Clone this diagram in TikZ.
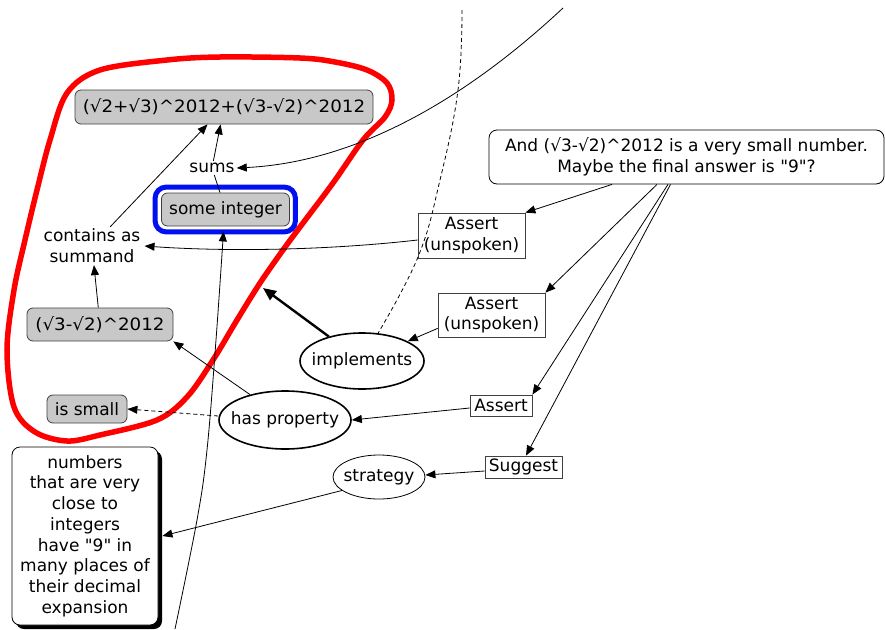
\documentclass[tikz,border=0pt]{standalone}
\usepackage{fontspec}
\usepackage{graphicx}
\setmainfont{DejaVu Sans}
\usetikzlibrary{arrows.meta,shapes.geometric,shadows}
\definecolor{boxgray}{HTML}{C8C8C8}
\definecolor{edgegray}{HTML}{404040}
\definecolor{loopred}{HTML}{FF0000}
\definecolor{loopblue}{HTML}{0010F0}
\begin{document}
\begin{tikzpicture}[x=1pt,y=-1pt,
  every node/.style={font=\fontsize{17}{20.7}\selectfont, inner sep=0pt},
  graybox/.style={draw=edgegray, fill=boxgray, rounded corners=6pt, line width=0.8pt},
  whitebox/.style={draw=black, fill=white, rounded corners=8pt, line width=0.8pt},
  rectbox/.style={draw=edgegray, fill=white, line width=0.8pt},
  ell/.style={draw, ellipse, line width=1.6pt},
  conn/.style={line width=0.8pt, -{Triangle[length=10pt,width=8pt]}},
  bigconn/.style={line width=2.4pt, -{Triangle[length=13pt,width=11pt]}},
  plainline/.style={line width=0.8pt},
  dashline/.style={line width=0.8pt, dash pattern=on 4pt off 3pt},
  loop/.style={loopred, line width=5.5pt},
  ring/.style={loopblue, line width=5pt, rounded corners=11pt}]
\useasboundingbox (0,0) rectangle (885,629);

% red loop
\draw[loop] plot[smooth cycle, tension=0.55] coordinates {
  (100,70) (167,60) (220,57) (300,58) (335,62) (367,70) (387,83) (392,100)
  (385,117) (363,140) (333,183) (300,227) (283,250) (260,283) (237,320)
  (213,360) (187,397) (157,420) (100,435) (67,441) (35,432) (14,407)
  (7,350) (14,290) (25,240) (37,190) (50,140) (67,93)};

% nodes
\node[graybox, minimum width=298pt, minimum height=34pt] (top) at (224,107)
  {\scalebox{1.075}[1]{(√2+√3)\textasciicircum 2012+(√3-√2)\textasciicircum 2012}};
\node[inner sep=2pt] (sums) at (212,168) {sums};
\node[graybox, minimum width=128pt, minimum height=33pt] (someint) at (225.5,209.5) {some integer};
\draw[ring] ([shift={(-6pt,5.5pt)}]someint.north west) rectangle ([shift={(5.5pt,-5.5pt)}]someint.south east);
\node[align=center, inner sep=2pt] (contains) at (92,246) {contains as\\summand};
\node[graybox, minimum width=146pt, minimum height=33pt] (small32) at (100,324.5)
  {\scalebox{1.075}[1]{(√3-√2)\textasciicircum 2012}};
\node[graybox, minimum width=80pt, minimum height=28pt] (issmall) at (87,409) {is small};
\node[whitebox, drop shadow={shadow xshift=4pt, shadow yshift=-4pt, fill=black, opacity=1},
  minimum width=146pt, minimum height=178pt, align=center] (numbers) at (85,536)
  {numbers\\that are very\\close to\\integers\\have \textquotedbl 9\textquotedbl{} in\\many places of\\their decimal\\expansion};
\node[ell, minimum width=124pt, minimum height=56pt] (impl) at (362,361) {\makebox[0pt]{implements}};
\node[ell, minimum width=132pt, minimum height=58pt] (hasprop) at (285,420) {\makebox[0pt]{has property}};
\node[ell, line width=0.8pt, minimum width=92pt, minimum height=44pt] (strategy) at (379,477) {\makebox[0pt]{strategy}};
\node[whitebox, minimum width=395pt, minimum height=54pt, align=center] (big) at (686.5,157)
  {And (√3-√2)\textasciicircum 2012 is a very small number.\\Maybe the final answer is \textquotedbl 9\textquotedbl ?};
\node[rectbox, minimum width=107pt, minimum height=45pt, align=center] (au1) at (471.5,235.5) {Assert\\(unspoken)};
\node[rectbox, minimum width=107pt, minimum height=44pt, align=center] (au2) at (491.5,315) {Assert\\(unspoken)};
\node[rectbox, minimum width=62pt, minimum height=21pt] (assert) at (501,405.5) {Assert};
\node[rectbox, minimum width=77pt, minimum height=22pt] (suggest) at (523.5,467) {Suggest};

% free ends
\coordinate (curvetop) at (563,8);
\coordinate (dashtop) at (462,10);
\coordinate (thicktip) at (263,288);
\coordinate (bottomend) at (175,629);

% connectors
\draw[plainline] (someint) -- (sums);
\draw[conn] (sums) -- (top);
\draw[conn] (contains) -- (top);
\draw[conn] (small32) -- (contains);
\draw[conn] ([yshift=-4.5pt]au1.west) .. controls (330,250) and (230,252) .. ([xshift=2pt]contains.east);
\draw[conn] (curvetop) .. controls (470,95) and (360,162) .. (sums.east);
\draw[dashline] plot[smooth, tension=0.7] coordinates {(dashtop) (458,90) (440,180) (418,257) (impl.60)};
\draw[bigconn] (impl) -- (thicktip);
\draw[conn] ([yshift=9pt]au2.south west) -- (impl);
\draw[conn] ([xshift=-74.5pt]big.south) -- (au1.north east);
\draw[conn] ([xshift=-29.5pt]big.south) -- (au2.north east);
\draw[conn] ([xshift=-18.5pt]big.south) -- (assert.north east);
\draw[conn] ([xshift=-16pt]big.south) -- ([xshift=2.5pt]suggest.north);
\draw[conn] ([yshift=-2.5pt]assert.west) -- (hasprop.east);
\draw[conn] ([yshift=-4pt]suggest.west) -- ([yshift=2pt]strategy.east);
\draw[conn] (strategy.200) -- ([xshift=4pt]numbers.east);
\draw[conn] (hasprop.144) -- (small32.south east);
\draw[conn, dash pattern=on 4pt off 3pt] ([yshift=4pt]hasprop.west) -- (issmall.east);
\draw[conn] plot[smooth, tension=0.6] coordinates {(bottomend) (197,520) (207,450) (216,340) ([shift={(-2pt,-5pt)}]someint.south)};
\end{tikzpicture}
\end{document}
